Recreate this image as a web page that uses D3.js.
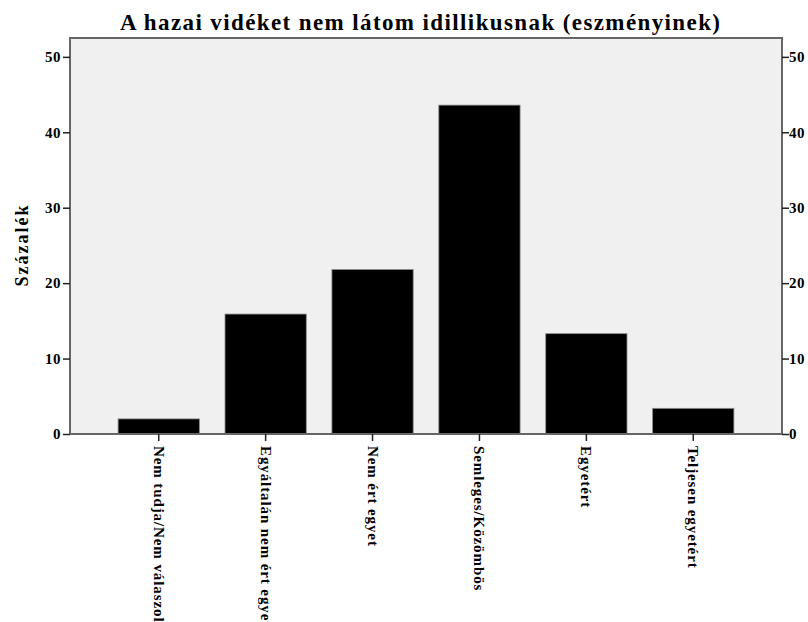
<!DOCTYPE html>
<html><head><meta charset="utf-8">
<script src="https://cdn.jsdelivr.net/npm/d3@7"></script>
<style>body{margin:0;background:#fff}svg text{font-family:"Liberation Serif","Times New Roman",serif;font-weight:bold}</style>
</head><body>
<svg id="c" width="808" height="622"></svg>
<script>
const categories = ["Nem tudja/Nem válaszol","Egyáltalán nem ért egyet","Nem ért egyet","Semleges/Közömbös","Egyetért","Teljesen egyetért"];
const values = [2.0, 15.9, 21.8, 43.6, 13.3, 3.4];
const yTicks = [0,10,20,30,40,50];
const title = "A hazai vidéket nem látom idillikusnak (eszményinek)";
const yLabel = "Százalék";

const svg = d3.select("#c");
const L=70, R=782, T=38, B=434;
const x = d3.scaleBand().domain(categories).range([L,R]).paddingInner(0.24).paddingOuter(0.45);
const y = d3.scaleLinear().domain([0,52.5]).range([B,T]);

svg.append("rect").attr("x",L).attr("y",T).attr("width",R-L).attr("height",B-T).attr("fill","#f0f0f0");

svg.append("g").selectAll("rect").data(values).join("rect")
  .attr("x",(d,i)=>x(categories[i])).attr("width",x.bandwidth())
  .attr("y",d=>y(d)).attr("height",d=>B-y(d))
  .attr("fill","#000").attr("stroke","#888").attr("stroke-width",0.8);

// frame
svg.append("rect").attr("x",L).attr("y",T).attr("width",R-L).attr("height",B-T)
  .attr("fill","none").attr("stroke","#666").attr("stroke-width",2);

const fmt = d3.format("d");
const gl = svg.append("g").attr("transform",`translate(${L},0)`).call(d3.axisLeft(y).tickValues(yTicks).tickSize(7).tickSizeOuter(0).tickFormat(fmt));
const gr = svg.append("g").attr("transform",`translate(${R},0)`).call(d3.axisRight(y).tickValues(yTicks).tickSize(7).tickSizeOuter(0).tickFormat(fmt));
const gb = svg.append("g").attr("transform",`translate(0,${B})`).call(d3.axisBottom(x).tickSize(7).tickSizeOuter(0));
[gl,gr,gb].forEach(g=>{
  g.select(".domain").remove();
  g.selectAll(".tick line").attr("stroke","#222").attr("stroke-width",1.5);
  g.selectAll("text").attr("font-family",'"Liberation Serif",serif').attr("font-weight","bold").attr("fill","#000");
});
gl.selectAll("text").attr("font-size",15).attr("letter-spacing",0.5).attr("x",-9);
gr.selectAll("text").attr("font-size",15).attr("letter-spacing",0.5).attr("x",7);
gb.selectAll("text").attr("font-size",15).attr("letter-spacing",0.9).attr("y",0).attr("dy",0)
  .attr("text-anchor","start").attr("dominant-baseline","central")
  .attr("transform","translate(0,12) rotate(90)");

svg.append("text").attr("x",420).attr("y",30).attr("text-anchor","middle")
  .attr("font-size",23).attr("textLength",600).attr("lengthAdjust","spacing").text(title);
svg.append("text").attr("transform","translate(28,245) rotate(-90)").attr("text-anchor","middle")
  .attr("font-size",18).attr("letter-spacing",2).text(yLabel);
</script>
</body></html>
